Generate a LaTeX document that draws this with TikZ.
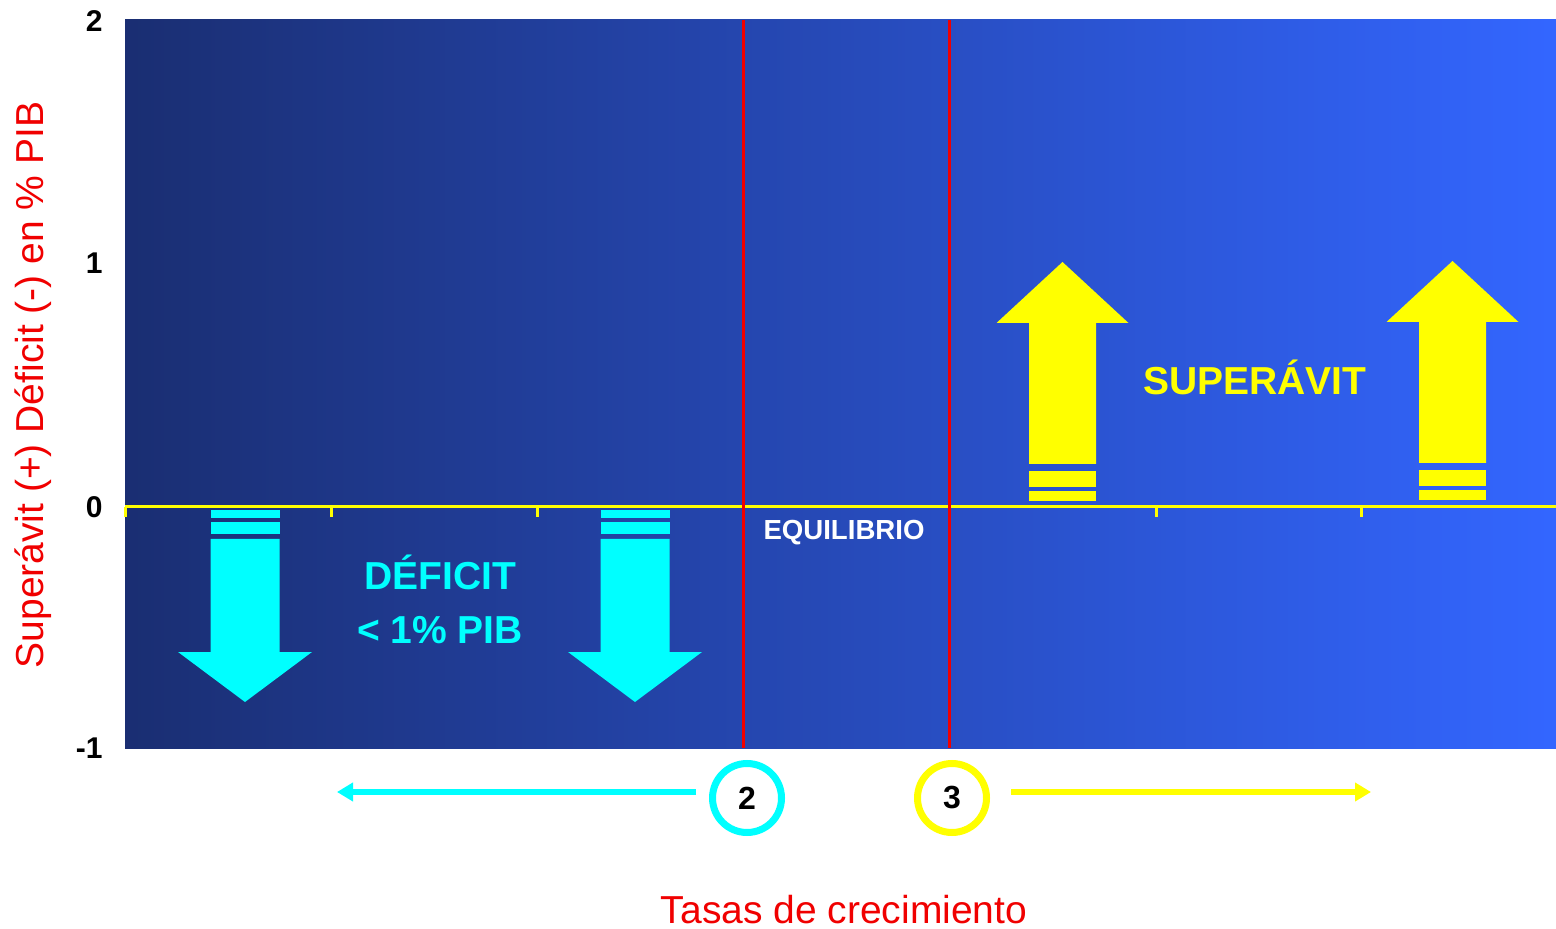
\documentclass[tikz,border=0pt]{standalone}
\usepackage{fontspec}
\setmainfont{Liberation Sans}
\usetikzlibrary{arrows.meta}
\definecolor{bgL}{RGB}{26,46,114}
\definecolor{bgR}{RGB}{51,102,255}
\definecolor{cyanA}{RGB}{0,255,255}
\definecolor{yelA}{RGB}{255,255,0}
\definecolor{redA}{RGB}{240,0,0}
\tikzset{
  bigtxt/.style={font=\bfseries\fontsize{19.5pt}{23pt}\selectfont, inner sep=0pt, anchor=base},
  labtxt/.style={font=\fontsize{19.5pt}{23pt}\selectfont, text=redA, inner sep=0pt},
  numtxt/.style={font=\bfseries\fontsize{15pt}{18pt}\selectfont, inner sep=0pt, anchor=east},
  ringnode/.style={circle, minimum size=34.5pt, inner sep=0pt, line width=3.5pt, fill=white, font=\bfseries\fontsize{16pt}{18pt}\selectfont},
  flowarrow/.style={line width=3pt, -{Triangle[length=8pt,width=9pt]}},
  downarrow/.pic={
    \fill[cyanA] (-34.5,510) rectangle (34.5,518);
    \fill[cyanA] (-34.5,522) rectangle (34.5,534);
    \fill[cyanA] (-34.5,539) -- (34.5,539) -- (34.5,652) -- (67,652) -- (0,702) -- (-67,652) -- (-34.5,652) -- cycle;
  },
  uparrow/.pic={
    \fill[yelA] (-33.5,491) rectangle (33.5,501);
    \fill[yelA] (-33.5,471) rectangle (33.5,487);
    \fill[yelA] (-33.5,464) -- (33.5,464) -- (33.5,323) -- (66,323) -- (0,262) -- (-66,323) -- (-33.5,323) -- cycle;
  }
}
\begin{document}
\begin{tikzpicture}[x=0.5pt,y=-0.5pt]
\useasboundingbox (0,0) rectangle (1556,929);
\shade[left color=bgL,right color=bgR] (125,20) rectangle (1556,748);
% zero axis
\draw[yelA, line width=1.5pt] (125,507) -- (1556,507);
\foreach \tx in {125,331,537,743,949,1156,1361}
  \draw[yelA, line width=1.5pt] (\tx,507) -- (\tx,517);
% red lines
\draw[redA, line width=1.5pt] (743,20) -- (743,748);
\draw[redA, line width=1.5pt] (949,20) -- (949,748);
% arrows in plot
\pic at (245,0) {downarrow};
\pic at (635,0) {downarrow};
\pic at (1062.5,0) {uparrow};
\pic at (1452.5,-1) {uparrow};
% texts
\node[bigtxt, text=yelA] (sup) at (1255,395) {SUPERÁVIT};
\node[bigtxt, text=cyanA] (def) at (440,589) {DÉFICIT};
\node[bigtxt, text=cyanA] (pib) at (440,643) {< 1\% PIB};
\node[font=\bfseries\fontsize{13.8pt}{17pt}\selectfont, text=white, inner sep=0pt, anchor=base] (eq) at (844,539) {EQUILIBRIO};
% y tick labels
\node[numtxt] (y2) at (103,21) {2};
\node[numtxt] (y1) at (103,263) {1};
\node[numtxt] (y0) at (103,507) {0};
\node[numtxt] (ym1) at (103,748) {-1};
% axis labels
\node[labtxt, rotate=90] (ylab) at (33,385) {Superávit (+) Déficit (-) en \% PIB};
\node[labtxt, anchor=base] (xlab) at (844,923) {Tasas de crecimiento};
% circles
\node[ringnode, draw=cyanA] (c2) at (747,798) {2};
\node[ringnode, draw=yelA] (c3) at (952,798) {3};
\coordinate (aL0) at (696,792);
\coordinate (aL1) at (337,792);
\coordinate (aR0) at (1011,792);
\coordinate (aR1) at (1371,792);
\draw[flowarrow, cyanA] (aL0) -- (aL1);
\draw[flowarrow, yelA] (aR0) -- (aR1);
\end{tikzpicture}
\end{document}
